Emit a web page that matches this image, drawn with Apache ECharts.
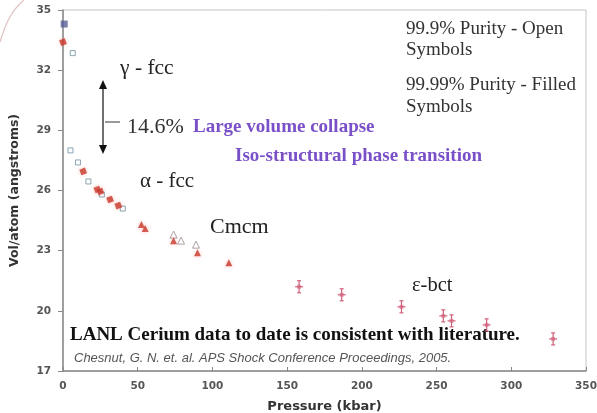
<!DOCTYPE html>
<html>
<head>
<meta charset="utf-8">
<script src="https://cdn.jsdelivr.net/npm/echarts@6/dist/echarts.min.js"></script>
<style>
  html, body { margin: 0; padding: 0; background: #fff; }
  #chart { width: 597px; height: 413px; }
</style>
</head>
<body>
<div id="chart"></div>
<script>
// Cerium volume per atom vs pressure
const xTicks = [0, 50, 100, 150, 200, 250, 300, 350];
const yTicks = [17, 20, 23, 26, 29, 32, 35];

// 99.9% purity, open squares (fcc phases)
const openSquares = [[6.5, 32.85], [5, 28.0], [10, 27.4], [17, 26.45], [26, 25.8], [40, 25.1]];
// ambient-pressure reference point
const ambientPoint = [[0.8, 34.3]];
// 99.99% purity, filled squares (fcc phases)
const filledSquares = [[0, 33.4], [13.5, 26.95], [23, 26.05], [25, 25.95], [31.5, 25.55], [37, 25.25]];
// Cmcm phase
const filledTriangles = [[52.5, 24.3], [55, 24.1], [74, 23.5], [90, 22.9], [111, 22.4]];
const openTriangles = [[74, 23.8], [79, 23.5], [89, 23.3]];
// epsilon-bct phase with error bars
const bctPressure = [158, 186.5, 226.5, 254.5, 260, 283.5, 328];
const bctVolume = [21.2, 20.8, 20.2, 19.75, 19.5, 19.3, 18.6];
const bctError = [0.3, 0.3, 0.3, 0.3, 0.3, 0.3, 0.3];

const serif = '"Liberation Serif", "DejaVu Serif", serif';
const sans = '"DejaVu Sans", Verdana, sans-serif';
const red = '#c8372b';
const purple = '#7a50c8';

const bctData = bctPressure.map((p, i) => [p, bctVolume[i], bctError[i]]);

const chart = echarts.init(document.getElementById('chart'));
chart.setOption({
  backgroundColor: '#fff',
  animation: false,
  grid: { left: 63, right: 11, top: 10, bottom: 42, outerBoundsMode: 'none', containLabel: false,
    show: true, borderColor: '#c4c4c4', borderWidth: 1 },
  xAxis: {
    type: 'value', min: 0, max: 350, interval: 50,
    name: 'Pressure (kbar)', nameLocation: 'middle', nameGap: 29,
    nameTextStyle: { fontFamily: sans, fontWeight: 'bold', fontSize: 13, color: '#333' },
    axisLine: { lineStyle: { color: '#888', width: 1.5 } },
    axisTick: { inside: true, length: 4, lineStyle: { color: '#888' } },
    axisLabel: { margin: 10, fontFamily: sans, fontWeight: 'bold', fontSize: 10.5, color: '#555',
      formatter: v => xTicks.includes(v) ? String(v) : '' },
    splitLine: { show: false }
  },
  yAxis: {
    type: 'value', min: 17, max: 35, interval: 3,
    name: 'Vol/atom (angstroms)', nameLocation: 'middle', nameGap: 42,
    nameTextStyle: { fontFamily: sans, fontWeight: 'bold', fontSize: 12.5, color: '#333' },
    axisLine: { show: true, lineStyle: { color: '#888', width: 1.5 } },
    axisTick: { show: true, inside: false, length: 5, lineStyle: { color: '#888' } },
    axisLabel: { margin: 12, fontFamily: sans, fontWeight: 'bold', fontSize: 10.5, color: '#555',
      formatter: v => yTicks.includes(v) ? String(v) : '' },
    splitLine: { show: false }
  },
  series: [
    {
      type: 'scatter', data: openSquares, symbol: 'rect', symbolSize: 5,
      itemStyle: { color: '#fff', borderColor: '#6f8ea0', borderWidth: 1 }, z: 3
    },
    {
      type: 'scatter', data: ambientPoint, symbol: 'rect', symbolSize: 7,
      itemStyle: { color: '#5a5e98' }, z: 3
    },
    {
      type: 'scatter', data: filledSquares, symbol: 'rect', symbolSize: 6, symbolRotate: 20,
      itemStyle: { color: red, shadowColor: 'rgba(240,120,110,0.5)', shadowBlur: 4 }, z: 4
    },
    {
      type: 'scatter', data: filledTriangles, symbol: 'triangle', symbolSize: 7,
      itemStyle: { color: red, shadowColor: 'rgba(240,120,110,0.5)', shadowBlur: 4 }, z: 4
    },
    {
      type: 'scatter', data: openTriangles, symbol: 'triangle', symbolSize: 7,
      itemStyle: { color: '#fff', borderColor: '#9a8a90', borderWidth: 1 }, z: 3
    },
    {
      type: 'custom', data: bctData, z: 4,
      renderItem: (params, api) => {
        const x = api.value(0), y = api.value(1), e = api.value(2);
        const c = api.coord([x, y]);
        const top = api.coord([x, y + e]);
        const bot = api.coord([x, y - e]);
        const s = { stroke: '#d0607a', lineWidth: 1.2 };
        return {
          type: 'group',
          children: [
            { type: 'line', shape: { x1: c[0], y1: top[1], x2: c[0], y2: bot[1] }, style: s },
            { type: 'line', shape: { x1: c[0] - 2, y1: top[1], x2: c[0] + 2, y2: top[1] }, style: s },
            { type: 'line', shape: { x1: c[0] - 2, y1: bot[1], x2: c[0] + 2, y2: bot[1] }, style: s },
            { type: 'line', shape: { x1: c[0] - 4, y1: c[1], x2: c[0] + 4, y2: c[1] }, style: s },
            { type: 'rect', shape: { x: c[0] - 2, y: c[1] - 2, width: 4, height: 4 },
              style: { fill: 'rgba(208,96,122,0.6)' } }
          ]
        };
      }
    }
  ],
  graphic: [
    // decorative corner curve
    { type: 'bezierCurve', shape: { x1: 0, y1: 42, cpx1: 6, cpy1: 22, cpx2: 12, cpy2: 10, x2: 24, y2: 0 },
      style: { stroke: '#e2c4c4', lineWidth: 1.3, fill: null } },
    // volume collapse arrow
    { type: 'line', shape: { x1: 103, y1: 88, x2: 103, y2: 146 }, style: { stroke: '#222', lineWidth: 1.3 } },
    { type: 'polygon', shape: { points: [[103, 80], [99, 89], [107, 89]] }, style: { fill: '#111' } },
    { type: 'polygon', shape: { points: [[103, 154], [99, 145], [107, 145]] }, style: { fill: '#111' } },
    { type: 'line', shape: { x1: 105, y1: 122, x2: 120, y2: 122 }, style: { stroke: '#333', lineWidth: 1 } },
    { type: 'text', left: 120, top: 57, style: { text: 'γ - fcc', font: '21.5px ' + serif, fill: '#222' } },
    { type: 'text', left: 127, top: 116, style: { text: '14.6%', font: '22px ' + serif, fill: '#333' } },
    { type: 'text', left: 193, top: 118, style: { text: 'Large volume collapse', font: 'bold 19px ' + serif, fill: purple } },
    { type: 'text', left: 235, top: 147, style: { text: 'Iso-structural phase transition', font: 'bold 19px ' + serif, fill: purple } },
    { type: 'text', left: 140, top: 171, style: { text: 'α - fcc', font: '21px ' + serif, fill: '#222' } },
    { type: 'text', left: 210, top: 216, style: { text: 'Cmcm', font: '22px ' + serif, fill: '#222' } },
    { type: 'text', left: 412, top: 275, style: { text: 'ε-bct', font: '20.5px ' + serif, fill: '#222' } },
    { type: 'text', left: 406, top: 19, style: { text: '99.9% Purity - Open\nSymbols', font: '19px ' + serif, fill: '#333', lineHeight: 21 } },
    { type: 'text', left: 406, top: 74, style: { text: '99.99% Purity - Filled\nSymbols', font: '19px ' + serif, fill: '#333', lineHeight: 22 } },
    { type: 'text', left: 70, top: 326, style: { text: 'LANL Cerium data to date is consistent with literature.', font: 'bold 19px ' + serif, fill: '#111' } },
    { type: 'text', left: 74, top: 352, style: { text: 'Chesnut, G. N. et. al. APS Shock Conference Proceedings, 2005.', font: 'italic 13px "Liberation Sans", Arial, sans-serif', fill: '#555' } }
  ]
});
</script>
</body>
</html>
